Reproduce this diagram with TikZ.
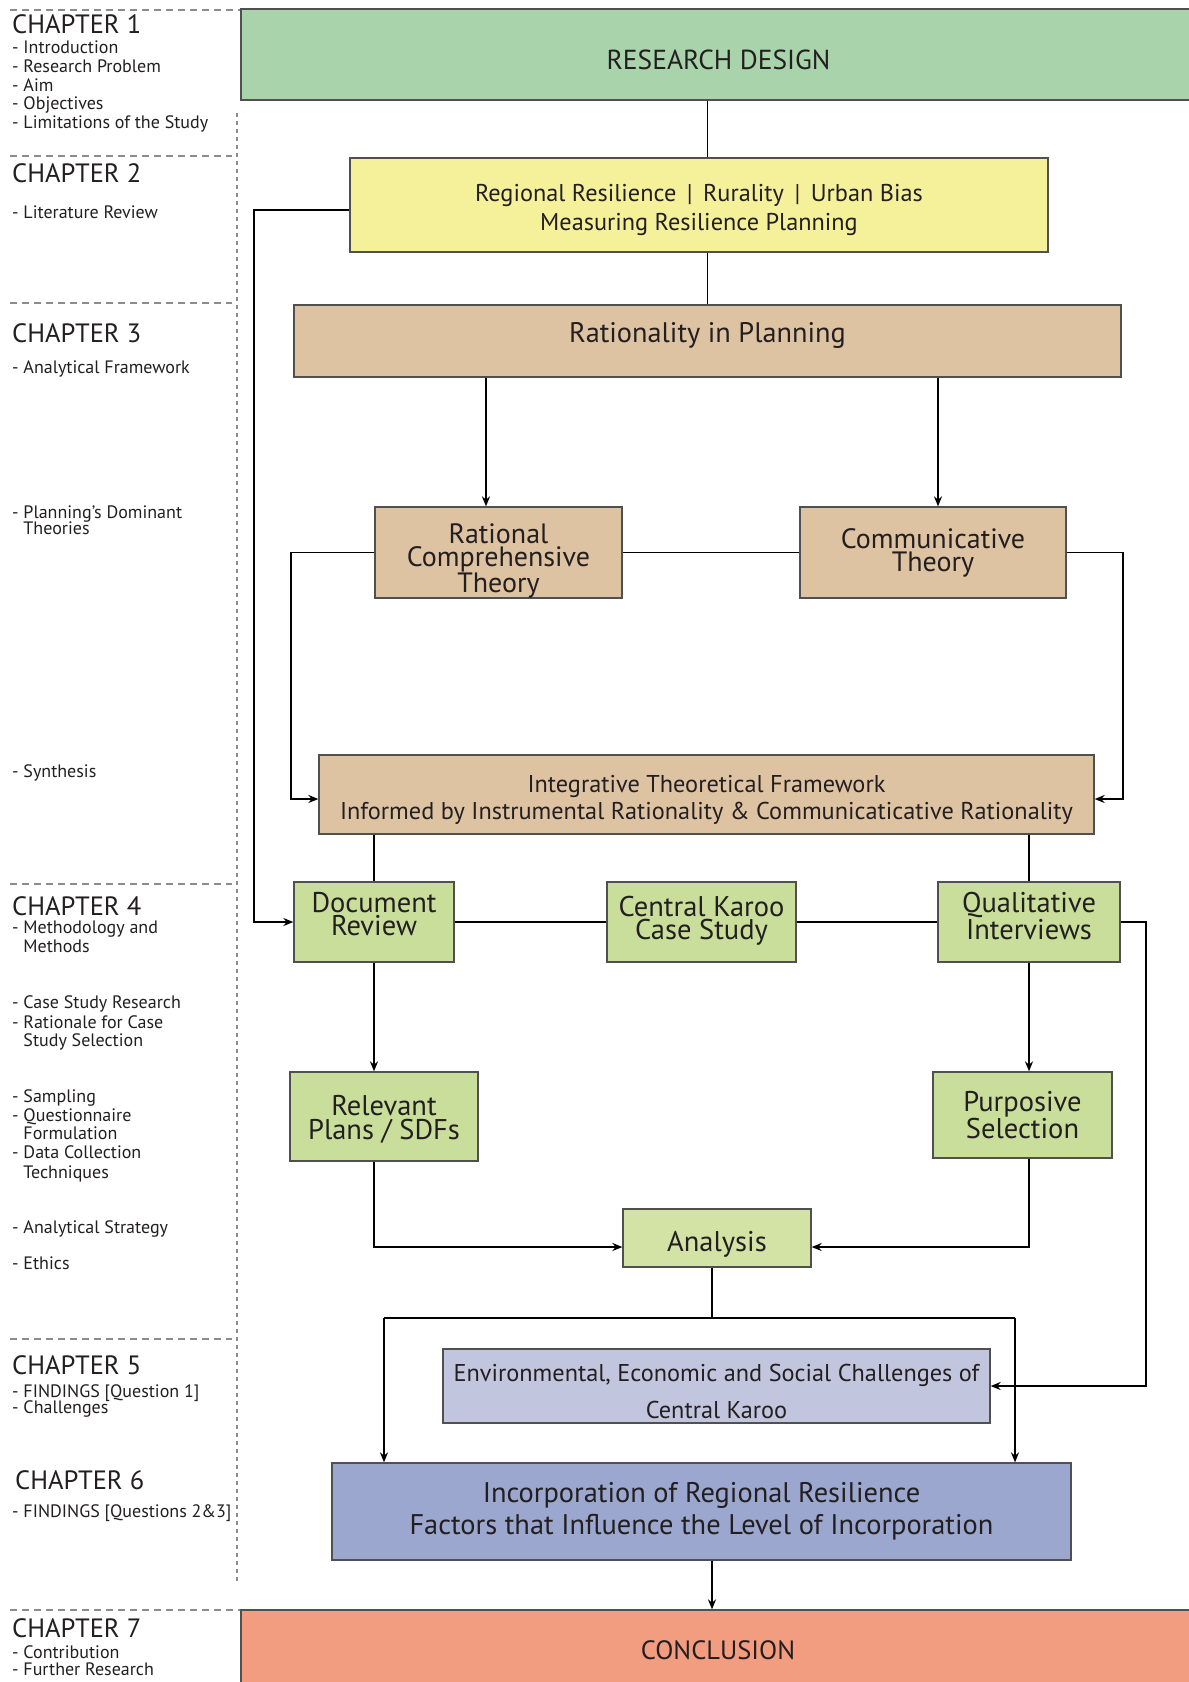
\documentclass[tikz,border=0pt]{standalone}
\usepackage{fontspec}
\setmainfont{PT Sans}
\usetikzlibrary{arrows.meta}
\definecolor{cRD}{RGB}{169,211,171}
\definecolor{cYL}{RGB}{245,240,154}
\definecolor{cTN}{RGB}{222,195,163}
\definecolor{cLG}{RGB}{201,222,154}
\definecolor{cAN}{RGB}{211,227,166}
\definecolor{cEN}{RGB}{194,197,222}
\definecolor{cIN}{RGB}{155,167,206}
\definecolor{cCO}{RGB}{242,156,128}
\definecolor{cBD}{RGB}{80,80,80}
\definecolor{cSEP}{RGB}{140,140,140}
\definecolor{cTX}{RGB}{35,31,32}
\newcommand{\fsz}[2]{\fontsize{#1}{#2}\selectfont}
\begin{document}
\begin{tikzpicture}[x=1pt,y=-1pt,
  box/.style={draw=cBD, line width=1.3pt, inner sep=0pt},
  txt/.style={inner sep=0pt, align=center, text=cTX},
  conn/.style={line width=1.8pt, black},
  arr/.style={conn, -{Stealth[length=10pt,width=8pt]}},
  sepline/.style={draw=cSEP, line width=1.4pt, dash pattern=on 7pt off 5pt},
  vsep/.style={draw=cSEP, line width=1.4pt, dash pattern=on 4pt off 4pt},
  chap/.style={anchor=base west, inner sep=0pt, text=cTX, font=\fsz{26.5}{26.5}},
  item/.style={anchor=base west, inner sep=0pt, text=cTX, font=\fsz{18}{18}}]
\useasboundingbox (0,0) rectangle (1189,1682);
\fill[white] (0,0) rectangle (1189,1682);

% ---------- left column separators ----------
\draw[sepline] (10,10) -- (241,10);
\draw[sepline] (10,156) -- (232,156);
\draw[sepline] (10,303) -- (232,303);
\draw[sepline] (10,884) -- (232,884);
\draw[sepline] (10,1339) -- (232,1339);
\draw[sepline] (10,1610) -- (241,1610);
\draw[vsep] (237,113) -- (237,1583);

% ---------- left column labels ----------
\node[chap] (c1) at (12,33) {CHAPTER 1};
\node[item] (c1a) at (12,53) {- Introduction};
\node[item] (c1b) at (12,72) {- Research Problem};
\node[item] (c1c) at (12,91) {- Aim};
\node[item] (c1d) at (12,109) {- Objectives};
\node[item] (c1e) at (12,128) {- Limitations of the Study};

\node[chap] (c2) at (12,182) {CHAPTER 2};
\node[item] (c2a) at (12,218) {- Literature Review};

\node[chap] (c3) at (12,342) {CHAPTER 3};
\node[item] (c3a) at (12,373) {- Analytical Framework};
\node[item] (c3b) at (12,518) {- Planning’s Dominant};
\node[item] (c3c) at (12,534) {\phantom{- }Theories};
\node[item] (c3d) at (12,777) {- Synthesis};

\node[chap] (c4) at (12,915) {CHAPTER 4};
\node[item] (c4a) at (12,933) {- Methodology and};
\node[item] (c4b) at (12,952) {\phantom{- }Methods};
\node[item] (c4c) at (12,1008) {- Case Study Research};
\node[item] (c4d) at (12,1028) {- Rationale for Case};
\node[item] (c4e) at (12,1046) {\phantom{- }Study Selection};
\node[item] (c4f) at (12,1102) {- Sampling};
\node[item] (c4g) at (12,1121) {- Questionnaire};
\node[item] (c4h) at (12,1139) {\phantom{- }Formulation};
\node[item] (c4i) at (12,1158) {- Data Collection};
\node[item] (c4j) at (12,1178) {\phantom{- }Techniques};
\node[item] (c4k) at (12,1233) {- Analytical Strategy};
\node[item] (c4l) at (12,1269) {- Ethics};

\node[chap] (c5) at (12,1374) {CHAPTER 5};
\node[item] (c5a) at (12,1397) {- FINDINGS [Question 1]};
\node[item] (c5b) at (12,1413) {- Challenges};

\node[chap] (c6) at (15,1489) {CHAPTER 6};
\node[item] (c6a) at (12,1517) {- FINDINGS [Questions 2\&3]};

\node[chap] (c7) at (12,1637) {CHAPTER 7};
\node[item] (c7a) at (12,1658) {- Contribution};
\node[item] (c7b) at (12,1675) {- Further Research};

% ---------- boxes ----------
\node[box, fill=cRD, minimum width=954pt, minimum height=91pt] (rd) at (718,54.5) {};
\node[box, fill=cYL, minimum width=698pt, minimum height=94pt] (yl) at (699,205) {};
\node[box, fill=cTN, minimum width=827pt, minimum height=72pt] (rip) at (707.5,341) {};
\node[box, fill=cTN, minimum width=247pt, minimum height=91pt] (rc) at (498.5,552.5) {};
\node[box, fill=cTN, minimum width=266pt, minimum height=91pt] (ct) at (933,552.5) {};
\node[box, fill=cTN, minimum width=775pt, minimum height=79pt] (itf) at (706.5,794.5) {};
\node[box, fill=cLG, minimum width=160pt, minimum height=80pt] (dr) at (374,922) {};
\node[box, fill=cLG, minimum width=189pt, minimum height=80pt] (ck) at (701.5,922) {};
\node[box, fill=cLG, minimum width=182pt, minimum height=80pt] (qi) at (1029,922) {};
\node[box, fill=cLG, minimum width=188pt, minimum height=89pt] (rp) at (384,1116.5) {};
\node[box, fill=cLG, minimum width=179pt, minimum height=86pt] (ps) at (1022.5,1115) {};
\node[box, fill=cAN, minimum width=188pt, minimum height=58pt] (an) at (717,1238) {};
\node[box, fill=cEN, minimum width=547pt, minimum height=74pt] (env) at (716.5,1386) {};
\node[box, fill=cIN, minimum width=739pt, minimum height=97pt] (inc) at (701.5,1511.5) {};
\node[box, fill=cCO, minimum width=954pt, minimum height=80pt] (con) at (718,1650) {};

% ---------- box texts ----------
\node[txt, font=\fsz{27.5}{27.5}] (rdT) at (718.5,59.5) {RESEARCH DESIGN};
\node[txt, font=\fsz{24.3}{29}] (ylT) at (699,210) {Regional Resilience \,|\, Rurality \,|\, Urban Bias\\Measuring Resilience Planning};
\node[txt, font=\fsz{28.3}{28.3}] (ripT) at (707.5,335) {Rationality in Planning};
\node[txt, font=\fsz{28}{23.5}] (rcT) at (498.5,561) {Rational\\Comprehensive\\Theory};
\node[txt, font=\fsz{28}{23}] (ctT) at (933,552.5) {Communicative\\Theory};
\node[txt, font=\fsz{24.3}{27}] (itfT) at (706.5,799.5) {Integrative Theoretical Framework\\Informed by Instrumental Rationality \& Communicaticative Rationality};
\node[txt, font=\fsz{28.5}{23.5}] (drT) at (374,914) {Document\\Review};
\node[txt, font=\fsz{28.5}{23.5}] (ckT) at (701.5,921) {Central Karoo\\Case Study};
\node[txt, font=\fsz{28.5}{24.5}] (qiT) at (1029,916) {Qualitative\\Interviews};
\node[txt, font=\fsz{28.5}{23.5}] (rpT) at (384,1119.5) {Relevant\\Plans / SDFs};
\node[txt, font=\fsz{28.5}{22.5}] (psT) at (1022.5,1115) {Purposive\\Selection};
\node[txt, font=\fsz{28.5}{28.5}] (anT) at (717,1244) {Analysis};
\node[txt, font=\fsz{24.3}{37}] (envT) at (716.5,1391) {Environmental, Economic and Social Challenges of\\Central Karoo};
\node[txt, font=\fsz{28.4}{32}] (incT) at (701.5,1511.5) {Incorporation of Regional Resilience\\Factors that Influence the Level of Incorporation};
\node[txt, font=\fsz{26.5}{26.5}] (conT) at (718,1650) {CONCLUSION};

% ---------- helper coordinates ----------
\coordinate (xl1) at (254,0);
\coordinate (xl2) at (291,0);
\coordinate (xr2) at (1123,0);
\coordinate (xr3) at (1146,0);
\coordinate (xa1) at (486,0);
\coordinate (xa2) at (938,0);
\coordinate (xmid) at (712,0);
\coordinate (xfl) at (384,0);
\coordinate (xfr) at (1015,0);
\coordinate (yitf) at (0,799);
\coordinate (yan) at (0,1247);
\coordinate (ybar) at (0,1318);
\coordinate (yenv) at (0,1386);
\coordinate (yyl) at (0,210);

% ---------- connectors ----------
\draw[conn] (rip.north |- rd.south) -- (rip.north |- yl.north);
\draw[conn] (rip.north |- yl.south) -- (rip.north);
\draw[arr] (yl.west |- yyl) -- (xl1 |- yyl) |- (dr.west);
\draw[arr] (rip.south -| xa1) -- (rc.north -| xa1);
\draw[arr] (rip.south -| xa2) -- (ct.north -| xa2);
\draw[conn] (rc.east) -- (ct.west);
\draw[arr] (rc.west) -| (xl2 |- yitf) -- (itf.west |- yitf);
\draw[arr] (ct.east) -| (xr2 |- yitf) -- (itf.east |- yitf);
\draw[conn] (dr.north |- itf.south) -- (dr.north);
\draw[conn] (qi.north |- itf.south) -- (qi.north);
\draw[conn] (dr.east) -- (ck.west);
\draw[conn] (ck.east) -- (qi.west);
\draw[arr] (qi.east) -| (xr3 |- yenv) -- (env.east |- yenv);
\draw[arr] (dr.south) -- (dr.south |- rp.north);
\draw[arr] (qi.south) -- (qi.south |- ps.north);
\draw[arr] (dr.south |- rp.south) |- (an.west |- yan);
\draw[arr] (ps.south -| qi.south) |- (an.east |- yan);
\draw[conn] (an.south -| xmid) -- (xmid |- ybar);
\draw[conn] (xfl |- ybar) -- (xfr |- ybar);
\draw[arr] (xfl |- ybar) -- (xfl |- inc.north);
\draw[arr] (xfr |- ybar) -- (xfr |- inc.north);
\draw[arr] (inc.south -| xmid) -- (con.north -| xmid);
\end{tikzpicture}
\end{document}
